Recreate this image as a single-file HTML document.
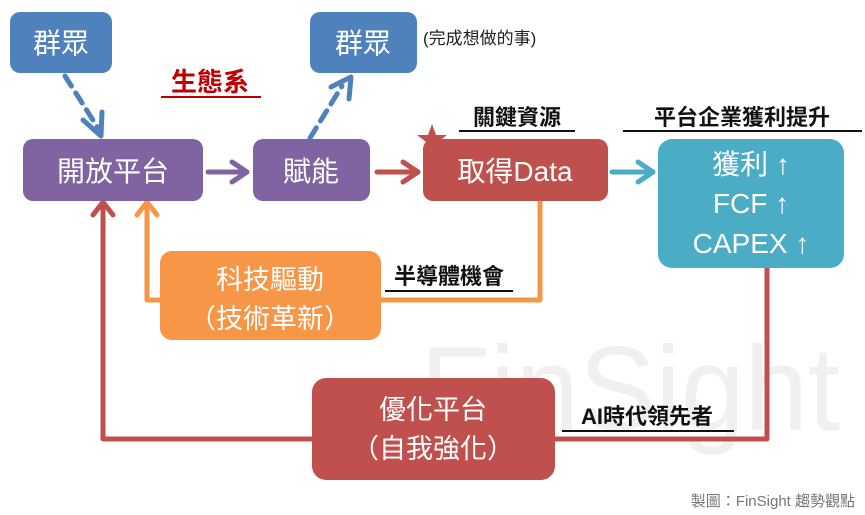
<!DOCTYPE html>
<html><head><meta charset="utf-8"><style>
body{margin:0;background:#fff;}
svg{display:block;font-family:"Liberation Sans","Noto Sans CJK TC",sans-serif;}
</style></head><body>
<svg width="865" height="515" viewBox="0 0 865 515" xmlns="http://www.w3.org/2000/svg">
<text x="420" y="430" font-size="120" fill="#f0f0f0" textLength="420" lengthAdjust="spacingAndGlyphs">FinSight</text>
<!-- connectors -->
<g fill="none" stroke-width="5" stroke-linecap="round" stroke-linejoin="round">
<path d="M65 76 L98 128" stroke="#4f81bd" stroke-dasharray="12 8"/>
<path d="M83 120 L101 136 L102 112" stroke="#4f81bd"/>
<path d="M310 138 L342 86" stroke="#4f81bd" stroke-dasharray="12 8"/>
<path d="M331 87 L351 77 L349 99" stroke="#4f81bd"/>
<path d="M208 172 L246 172 M232 162 L247 172 L232 182" stroke="#8064a2"/>
<path d="M377 172 L417 172 M403 162 L418 172 L403 182" stroke="#c0504d"/>
<path d="M612 172 L652 172 M638 162 L653 172 L638 182" stroke="#4bacc6"/>
<path d="M540 202 L540 300 L380 300" stroke="#f79646"/>
<path d="M160 300 L147 300 L147 202 M137 215 L147 202 L157 215" stroke="#f79646"/>
<path d="M767 268 L767 439 L555 439" stroke="#c0504d"/>
<path d="M312 439 L103 439 L103 202 M93 215 L103 202 L113 215" stroke="#c0504d"/>
</g>
<!-- boxes -->
<rect x="10" y="12" width="102" height="61" rx="10" fill="#4f81bd"/>
<text x="61" y="53" font-size="28" fill="#fff" text-anchor="middle">群眾</text>
<rect x="310" y="12" width="107" height="61" rx="10" fill="#4f81bd"/>
<text x="363" y="53" font-size="28" fill="#fff" text-anchor="middle">群眾</text>
<text x="423" y="44" font-size="17" fill="#222">(完成想做的事)</text>
<text x="210" y="91" font-size="26" font-weight="bold" fill="#c00000" text-anchor="middle">生態系</text>
<line x1="161" y1="97" x2="261" y2="97" stroke="#c00000" stroke-width="2"/>
<rect x="23" y="139" width="180" height="62" rx="10" fill="#8064a2"/>
<text x="113" y="181" font-size="28" fill="#fff" text-anchor="middle">開放平台</text>
<rect x="253" y="139" width="117" height="62" rx="10" fill="#8064a2"/>
<text x="311" y="181" font-size="28" fill="#fff" text-anchor="middle">賦能</text>
<rect x="423" y="139" width="185" height="62" rx="10" fill="#c0504d"/>
<text x="515" y="181" font-size="28" fill="#fff" text-anchor="middle">取得Data</text>
<polygon points="432,124 436,135 447,135 438,142 441,153 432,146 423,153 426,142 417,135 428,135" fill="#c0504d"/>
<text x="517" y="125" font-size="22" font-weight="bold" fill="#111" text-anchor="middle">關鍵資源</text>
<line x1="459" y1="131" x2="575" y2="131" stroke="#111" stroke-width="2"/>
<text x="742" y="125" font-size="22" font-weight="bold" fill="#111" text-anchor="middle">平台企業獲利提升</text>
<line x1="623" y1="131" x2="862" y2="131" stroke="#111" stroke-width="2"/>
<rect x="658" y="139" width="186" height="129" rx="14" fill="#4bacc6"/>
<text x="751" y="174" font-size="28" fill="#fff" text-anchor="middle">獲利 ↑</text>
<text x="751" y="213" font-size="28" fill="#fff" text-anchor="middle">FCF ↑</text>
<text x="751" y="253" font-size="28" fill="#fff" text-anchor="middle">CAPEX ↑</text>
<rect x="160" y="251" width="221" height="89" rx="12" fill="#f79646"/>
<text x="270" y="289" font-size="27" fill="#fff" text-anchor="middle">科技驅動</text>
<text x="270" y="328" font-size="27" fill="#fff" text-anchor="middle">（技術革新）</text>
<text x="449" y="284" font-size="22" font-weight="bold" fill="#111" text-anchor="middle">半導體機會</text>
<line x1="385" y1="291" x2="513" y2="291" stroke="#111" stroke-width="2"/>
<rect x="312" y="378" width="243" height="102" rx="14" fill="#c0504d"/>
<text x="433" y="419" font-size="27" fill="#fff" text-anchor="middle">優化平台</text>
<text x="433" y="458" font-size="27" fill="#fff" text-anchor="middle">（自我強化）</text>
<text x="647" y="424" font-size="22" font-weight="bold" fill="#111" text-anchor="middle">AI時代領先者</text>
<line x1="562" y1="431" x2="734" y2="431" stroke="#111" stroke-width="2"/>
<text x="855" y="506" font-size="15" fill="#777" text-anchor="end">製圖：FinSight 趨勢觀點</text>
</svg>
</body></html>
